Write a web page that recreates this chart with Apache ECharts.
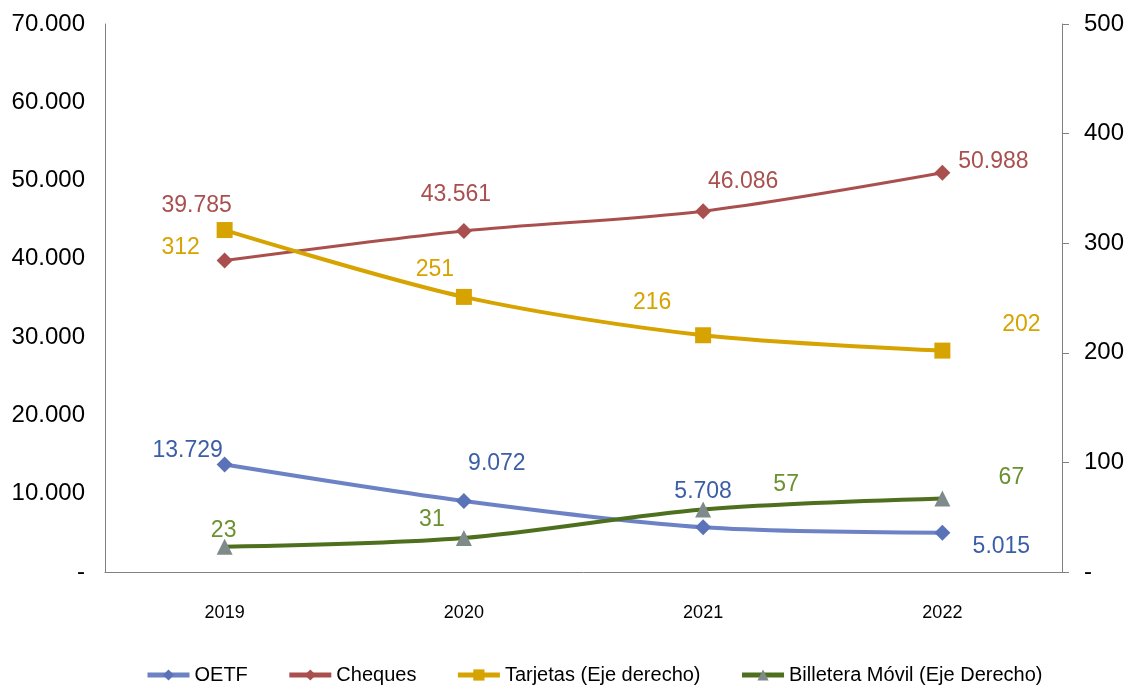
<!DOCTYPE html>
<html>
<head>
<meta charset="utf-8">
<script src="https://cdn.jsdelivr.net/npm/echarts@6/dist/echarts.min.js"></script>
<style>
  html, body { margin: 0; padding: 0; background: #fff; }
  #m1 { width: 1129px; height: 690px; }
</style>
</head>
<body>
<div id="m1"></div>
<script>
var years = ['2019', '2020', '2021', '2022'];
var oetf = [13729, 9072, 5708, 5015];
var cheques = [39785, 43561, 46086, 50988];
var tarjetas = [312, 251, 216, 202];
var billetera = [23, 31, 57, 67];

// label offsets (relative to the point) per year
var oetfOff = [[-37, -14], [33, -37], [0, -36], [59, 14]];
var chequesOff = [[-28, -55], [-8, -36], [40, -30], [51, -11]];
var tarjetasOff = [[-44, 18], [-29, -27], [-51, -33], [79, -26]];
var billeteraOff = [[-1, -16], [-32, -18], [83, -25], [69, -21]];

function fmtMiles(v) {
    if (v === 0) return '-';
    return String(v).replace(/\B(?=(\d{3})+(?!\d))/g, '.');
}

function withLabels(values, offsets) {
    return values.map(function (v, i) {
        return { value: v, label: { offset: offsets[i] } };
    });
}

function labelStyle(color) {
    return {
        show: true,
        position: 'inside',
        color: color,
        fontSize: 23,
        fontFamily: 'Liberation Sans',
        formatter: function (p) { return fmtMiles(p.value); }
    };
}

var myChart = echarts.init(document.getElementById('m1'));
var option = {
    animation: false,
    textStyle: { fontFamily: 'Liberation Sans' },
    grid: { left: 105, right: 67, top: 24, bottom: 118 },
    legend: {
        bottom: 0,
        left: 140,
        itemWidth: 42,
        itemHeight: 14,
        itemGap: 39,
        lineStyle: { width: 5 },
        textStyle: { fontSize: 20, color: '#000', fontFamily: 'Liberation Sans' },
        data: ['OETF', 'Cheques', 'Tarjetas (Eje derecho)', 'Billetera Móvil (Eje Derecho)']
    },
    xAxis: {
        type: 'category',
        data: years,
        boundaryGap: true,
        axisLine: { lineStyle: { color: '#808080', width: 1 } },
        axisTick: { show: false },
        axisLabel: { color: '#000', fontSize: 18, margin: 32 }
    },
    yAxis: [
        {
            type: 'value',
            min: 0, max: 70000, interval: 10000,
            splitLine: { show: false },
            axisLine: { show: true, lineStyle: { color: '#808080' } },
            axisTick: { show: false },
            axisLabel: { color: '#000', fontSize: 24, margin: 20, formatter: fmtMiles }
        },
        {
            type: 'value',
            min: 0, max: 500, interval: 100,
            splitLine: { show: false },
            axisLine: { show: true, lineStyle: { color: '#808080' } },
            axisTick: { show: true, inside: false, length: 7, lineStyle: { color: '#808080' } },
            axisLabel: { color: '#000', fontSize: 24, margin: 22, formatter: fmtMiles }
        }
    ],
    series: [
        {
            name: 'OETF',
            type: 'line',
            smooth: 0.3,
            yAxisIndex: 0,
            symbol: 'diamond',
            symbolSize: 16,
            lineStyle: { color: '#6c82c4', width: 4 },
            itemStyle: { color: '#5a72b8' },
            label: labelStyle('#3b5ea6'),
            data: withLabels(oetf, oetfOff)
        },
        {
            name: 'Cheques',
            type: 'line',
            smooth: 0.3,
            yAxisIndex: 0,
            symbol: 'diamond',
            symbolSize: 16,
            lineStyle: { color: '#a9504f', width: 3 },
            itemStyle: { color: '#a9504f' },
            label: labelStyle('#a9504f'),
            data: withLabels(cheques, chequesOff)
        },
        {
            name: 'Tarjetas (Eje derecho)',
            type: 'line',
            smooth: 0.3,
            yAxisIndex: 1,
            symbol: 'rect',
            symbolSize: 16,
            lineStyle: { color: '#d6a300', width: 4 },
            itemStyle: { color: '#d6a300' },
            label: labelStyle('#d6a300'),
            data: withLabels(tarjetas, tarjetasOff)
        },
        {
            name: 'Billetera Móvil (Eje Derecho)',
            type: 'line',
            smooth: 0.3,
            yAxisIndex: 1,
            symbol: 'triangle',
            symbolSize: 16,
            lineStyle: { color: '#4e6f1d', width: 4 },
            itemStyle: { color: '#7f8a8a' },
            label: labelStyle('#6b9130'),
            data: withLabels(billetera, billeteraOff)
        }
    ]
};
myChart.setOption(option);
</script>
</body>
</html>
